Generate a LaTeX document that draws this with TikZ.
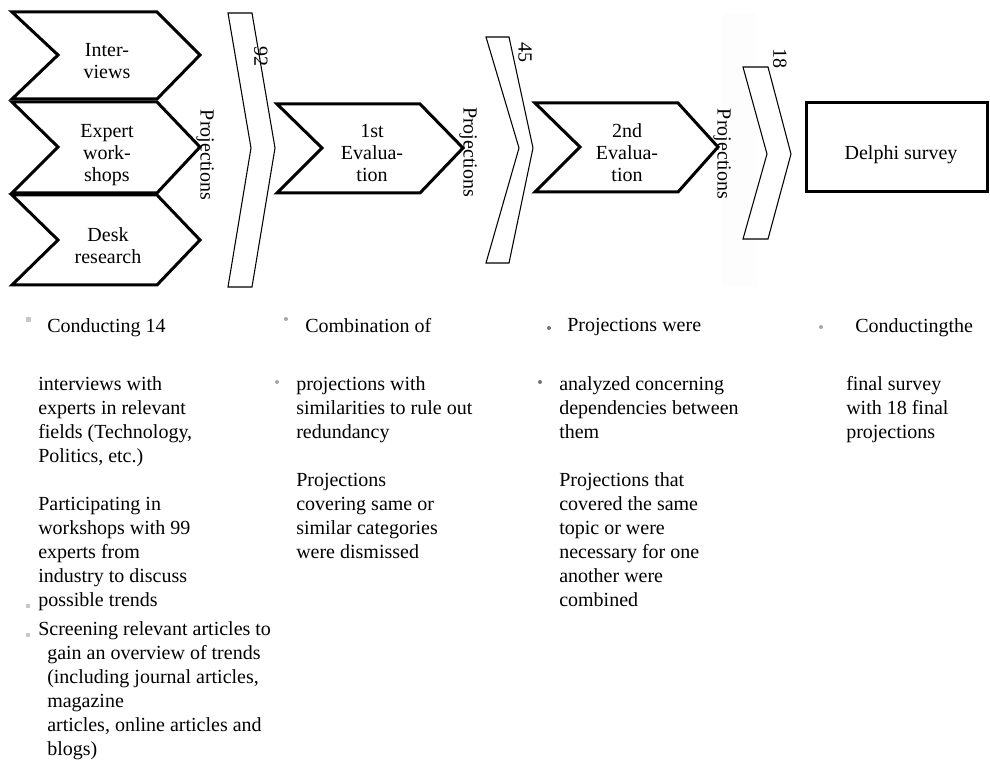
\documentclass[tikz,border=0pt]{standalone}
\usepackage{fontspec}
\setmainfont{Liberation Serif}
\tikzset{
    stage/.style={line width=2.25pt, line join=miter, fill=white},
    funnel/.style={line width=0.8pt, line join=miter, fill=white},
    stagetext/.style={align=center, inner sep=0pt, font=\fontsize{15}{16.5}\selectfont},
    counttext/.style={rotate=-90, inner sep=0pt, font=\fontsize{15}{18}\selectfont},
    notetext/.style={align=left, anchor=north west, inner sep=0pt, font=\fontsize{15}{18}\selectfont},
    squarebullet/.style={fill=black!22},
    roundbullet/.style={fill=black!35},
}
\begin{document}
\begin{tikzpicture}[x=0.75pt, y=-0.75pt]
            \useasboundingbox (0,0) rectangle (990,766);
            \fill[black!0.8] (722,13) rectangle (757,287);
            \begin{scope}[stage]
                \filldraw (12,12) -- (58,55) -- (12,99) -- (157,99) -- (200,55) -- (157,12) -- cycle;
                \filldraw (12,102) -- (58,147) -- (12,193) -- (157,193) -- (200,147) -- (157,102) -- cycle;
                \filldraw (12,195) -- (58,240) -- (12,285) -- (157,285) -- (200,240) -- (157,195) -- cycle;
                \filldraw (277,104) -- (322,148) -- (277,193) -- (420,193) -- (463,148) -- (420,104) -- cycle;
                \filldraw (535,103) -- (580,147) -- (535,192) -- (678,192) -- (718,147) -- (678,103) -- cycle;
                \filldraw (806,103) rectangle (987,192);
            \end{scope}
            \begin{scope}[funnel]
                \filldraw (228,13) -- (252,13) -- (275,148) -- (252,287) -- (228,287) -- (251,148) -- cycle;
                \filldraw (486,37) -- (509,37) -- (533,148) -- (509,263) -- (486,263) -- (519,148) -- cycle;
                \filldraw (743,67) -- (768,67) -- (791,154) -- (768,239) -- (743,239) -- (767,154) -- cycle;
            \end{scope}
            \node[stagetext] (interviews) at (107,61) {Inter-\\views};
            \node[stagetext] (workshops) at (107,155) {Expert\\work-\\shops};
            \node[stagetext] (desk) at (108,246) {Desk\\research};
            \node[stagetext] (firsteval) at (372,153) {1st\\Evalua-\\tion};
            \node[stagetext] (secondeval) at (627,153) {2nd\\Evalua-\\tion};
            \node[stagetext, anchor=base] (delphi) at (901,160) {Delphi survey};
            \node[counttext] (proj1) at (205,155) {Projections};
            \node[counttext] (proj2) at (468,152) {Projections};
            \node[counttext] (proj3) at (722,154) {Projections};
            \node[counttext] (count1) at (261,57) {92};
            \node[counttext] (count2) at (525,53) {45};
            \node[counttext] (count3) at (780,59) {18};
            \fill[squarebullet] (26,317) rectangle (31,322);
            \fill[squarebullet] (26,604) rectangle (30,608);
            \fill[squarebullet] (26,633) rectangle (30,637);
            \fill[roundbullet] (286,319) circle (2);
            \fill[roundbullet] (277,382) circle (2);
            \fill[black!55] (549,328) circle (2);
            \fill[black!55] (540,382) circle (2);
            \fill[roundbullet] (821,327) circle (2);
            \node[notetext] (intro1) at (47,318) {Conducting 14};
            \node[notetext] (note1) at (38,376) {interviews with\\experts in relevant\\fields (Technology,\\Politics, etc.)\\[18pt]Participating in\\workshops with 99\\experts from\\industry to discuss\\possible trends};
            \node[notetext] (screen1) at (38,621) {Screening relevant articles to};
            \node[notetext] (screen2) at (47,645) {gain an overview of trends\\(including journal articles,\\magazine\\articles, online articles and\\blogs)};
            \node[notetext] (intro2) at (305,318) {Combination of};
            \node[notetext] (note2) at (296,376) {projections with\\similarities to rule out\\redundancy\\[18pt]Projections\\covering same or\\similar categories\\were dismissed};
            \node[notetext] (intro3) at (567,318) {Projections were};
            \node[notetext] (note3) at (559,376) {analyzed concerning\\dependencies between\\them\\[18pt]Projections that\\covered the same\\topic or were\\necessary for one\\another were\\combined};
            \node[notetext] (intro4) at (855,318) {Conductingthe};
            \node[notetext] (note4) at (846,376) {final survey\\with 18 final\\projections};
        \end{tikzpicture}
\end{document}
